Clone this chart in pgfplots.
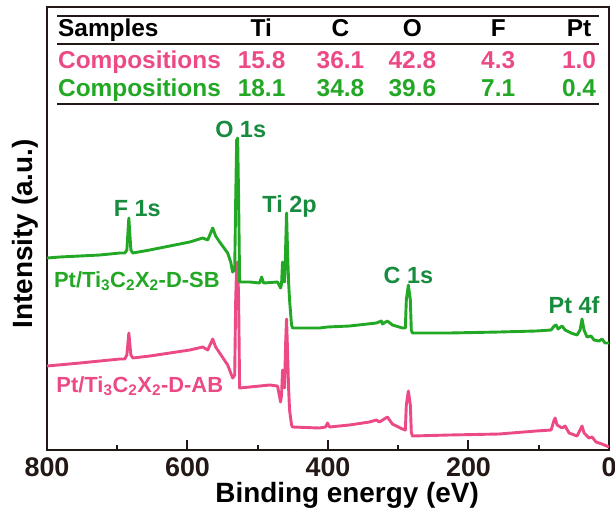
\documentclass[border=0pt]{standalone}
\usepackage{fontspec}
\setmainfont{Liberation Sans}
\usepackage{pgfplots}
\pgfplotsset{compat=1.18}
\definecolor{sbgreen}{RGB}{34,168,36}
\definecolor{abpink}{RGB}{236,74,134}
\definecolor{lblgreen}{RGB}{24,140,62}
\definecolor{axdark}{RGB}{35,24,21}

\begin{document}
\begin{tikzpicture}
\begin{axis}[
    scale only axis,
    width=562bp, height=443bp,
    xmin=0, xmax=800, x dir=reverse,
    ymin=65, ymax=508,
    ytick=\empty,
    xtick={0,200,400,600,800},
    minor xtick={100,300,500,700},
    xtick pos=bottom,
    tick align=inside,
    major tick length=10bp, minor tick length=5bp,
    every tick/.style={axdark, line width=2bp},
    axis line style={axdark, line width=2.2bp},
    /pgf/number format/assume math mode=true,
    xticklabel style={font=\fontsize{27}{32}\selectfont\bfseries, text=axdark, inner sep=0pt, yshift=-8bp},
    clip=false,
]
% AB (pink)
\addplot[abpink, line width=2.9bp, line join=round] coordinates {
 (800,149) (753,152) (724.7,154) (696.3,156) (689.2,156) (686.3,160) (683.5,182) (680.6,160)
 (677.8,157) (653.6,159) (625.2,162) (596.8,165) (578.3,168) (571.2,165) (564.1,176) (559.9,168)
 (554.2,162) (542.8,150) (535.7,137) (532.8,140) (531.4,215) (530,250) (528.6,253) (527.2,215)
 (525.8,127) (511.5,128) (483.1,130) (471.8,129) (467.5,113) (466.1,120) (464.7,145) (463.2,130)
 (461.8,127) (460.4,170) (459,196) (457.6,165) (456.1,127) (454.7,105) (451.9,90) (450.4,88)
 (412.1,87) (403.5,88) (400.7,92) (397.9,88) (369.5,90) (341.1,93) (331.1,95) (326.8,93)
 (315.5,98) (308.3,91) (294.1,86) (289.9,85) (288.5,110) (285.6,124) (282.8,110) (281.4,83)
 (279.9,79) (227.4,80) (156.3,81) (103.7,84) (82.4,85) (78.1,95) (76.7,97) (73.9,90)
 (66.8,87) (62.5,89) (56.8,82) (45.5,79) (41.2,85) (38.4,89) (35.5,82) (28.4,77)
 (24.1,78) (18.5,73) (9.9,71) (0,68)
};
% SB (green)
\addplot[sbgreen, line width=2.9bp, line join=round] coordinates {
 (800,257) (781.5,258) (753,259) (724.7,260) (696.3,262) (689.2,262) (686.3,265) (683.5,297)
 (680.6,265) (677.8,262) (653.6,265) (625.2,269) (596.8,273) (578.3,277) (571.2,275) (564.1,287)
 (559.9,279) (554.2,273) (542.8,262) (538.5,253) (535.7,243) (532.8,245) (531.4,315) (530,375)
 (528.6,377) (527.2,315) (525.8,233) (511.5,233) (497.3,232) (494.5,238) (491.6,232) (471.8,233)
 (467.5,227) (466.1,231) (464.7,253) (463.2,235) (461.8,233) (460.4,265) (459,302) (457.6,265)
 (456.1,233) (454.7,215) (451.9,190) (450.4,187) (440.5,187) (412.1,187) (400.7,188) (369.5,189)
 (331.1,192) (324,194) (322.6,191) (315.5,194) (308.3,190) (294.1,187) (289.9,187) (288.5,215)
 (285.6,230) (282.8,215) (281.4,185) (279.9,182) (227.4,182) (156.3,183) (103.7,184) (82.4,185)
 (78.1,189) (75.3,190) (72.5,186) (66.8,189) (62.5,185) (54,182) (45.5,180) (41.2,185)
 (38.4,196) (35.5,185) (31.3,178) (25.6,179) (21.3,175) (14.2,174) (9.9,176) (5.7,172) (0,172)
};
% composition table
\draw[axdark, line width=2.2bp] (axis cs:785.8,499) -- (axis cs:14.2,499);
\draw[axdark, line width=2.2bp] (axis cs:785.8,471) -- (axis cs:14.2,471);
\draw[axdark, line width=2.2bp] (axis cs:785.8,411) -- (axis cs:14.2,411);
\begin{scope}[every node/.style={font=\fontsize{24.5}{29}\selectfont\bfseries, anchor=base, inner sep=0pt}]
\node[anchor=base west, text=black] at (axis cs:784.4,478) {Samples};
\node[text=black] at (axis cs:495,478) {Ti};
\node[text=black] at (axis cs:382.2,478) {C};
\node[text=black] at (axis cs:279.9,478) {O};
\node[text=black] at (axis cs:157.7,478) {F};
\node[text=black] at (axis cs:42.6,478) {Pt};
\node[anchor=base west, text=abpink] at (axis cs:784.4,446) {Compositions};
\node[text=abpink] at (axis cs:494.5,446) {15.8};
\node[text=abpink] at (axis cs:382.2,446) {36.1};
\node[text=abpink] at (axis cs:279.9,446) {42.8};
\node[text=abpink] at (axis cs:157.7,446) {4.3};
\node[text=abpink] at (axis cs:42.6,446) {1.0};
\node[anchor=base west, text=sbgreen] at (axis cs:784.4,418) {Compositions};
\node[text=sbgreen] at (axis cs:494.5,418) {18.1};
\node[text=sbgreen] at (axis cs:382.2,418) {34.8};
\node[text=sbgreen] at (axis cs:279.9,418) {39.6};
\node[text=sbgreen] at (axis cs:157.7,418) {7.1};
\node[text=sbgreen] at (axis cs:42.6,418) {0.4};
\end{scope}
% peak labels
\begin{scope}[every node/.style={font=\fontsize{23.5}{28}\selectfont\bfseries, anchor=base, inner sep=0pt, text=lblgreen}]
\node at (axis cs:671.4,298) {F 1s};
\node at (axis cs:524.3,377) {O 1s};
\node at (axis cs:454.7,302) {Ti 2p};
\node at (axis cs:285.6,232) {C 1s};
\node at (axis cs:49.7,202) {Pt 4f};
\end{scope}
% sample labels
\node[font=\fontsize{22}{26}\selectfont\bfseries, anchor=base, inner sep=0pt, text=sbgreen]
  at (axis cs:672.1,228) {Pt/Ti\textsubscript{3}C\textsubscript{2}X\textsubscript{2}-D-SB};
\node[font=\fontsize{22}{26}\selectfont\bfseries, anchor=base, inner sep=0pt, text=abpink]
  at (axis cs:667.9,123) {Pt/Ti\textsubscript{3}C\textsubscript{2}X\textsubscript{2}-D-AB};
% axis titles
\node[font=\fontsize{28}{33}\selectfont\bfseries, anchor=base, inner sep=0pt, text=black]
  at ([yshift=-52bp]rel axis cs:0.534,0) {Binding energy (eV)};
\node[font=\fontsize{28}{33}\selectfont\bfseries, anchor=base, inner sep=0pt, rotate=90, text=black]
  at ([xshift=-14bp]rel axis cs:0,0.488) {Intensity (a.u.)};
\coordinate (ll) at (rel axis cs:0,0);
\coordinate (ur) at (rel axis cs:1,1);
\end{axis}
\pgfresetboundingbox
\path[use as bounding box] ([shift={(-47bp,-65bp)}]ll) rectangle ([shift={(6bp,7bp)}]ur);
\end{tikzpicture}
\end{document}
